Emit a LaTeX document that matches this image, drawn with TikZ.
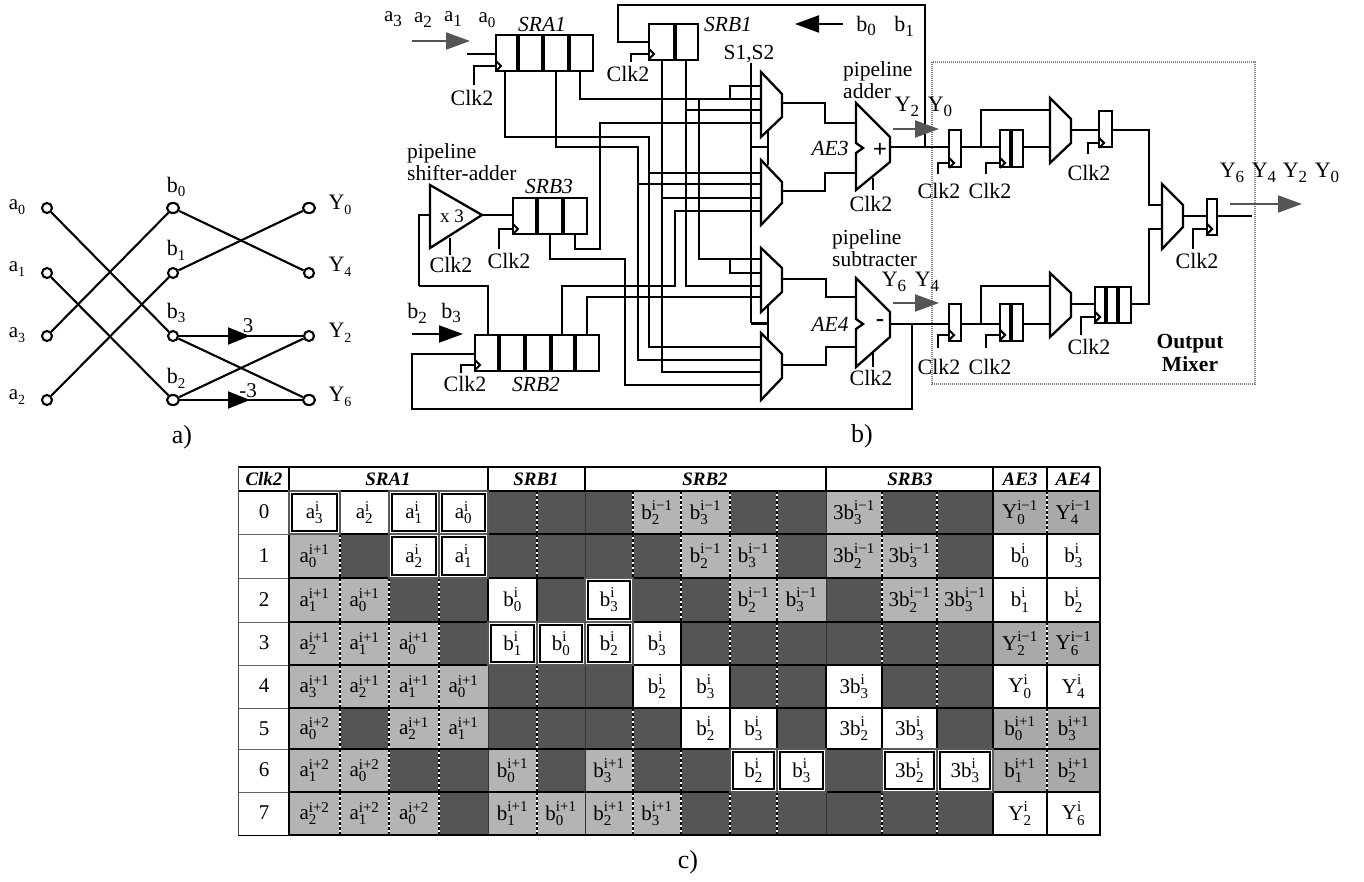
\documentclass[tikz,border=0pt]{standalone}
\usepackage{fontspec}
\setmainfont{Liberation Serif}
\usetikzlibrary{arrows.meta,shapes.geometric}
\definecolor{celW}{HTML}{FFFFFF}
\definecolor{celL}{HTML}{B4B4B4}
\definecolor{celM}{HTML}{A9A9A9}
\definecolor{celD}{HTML}{555555}
\definecolor{arrowgrey}{HTML}{555555}
\newcount\lblc
\newcommand\fs[1]{\fontsize{#1}{#1}\selectfont}
% label at x,y with style
\newcommand\lbl[4][]{\global\advance\lblc by 1 \node[lab,#1] (t\the\lblc) at (#2,#3) {#4};}
% text with lowered small index
\newcommand\lsub[3]{#1\raisebox{-.22em}{\fs{#3}#2}}
% cell value with sup and sub
\newcommand\cv[3]{$\hbox{#1}^{\hbox{\fs{15}#2}}_{\hbox{\fs{15}#3}}$}
\newcommand\regbox[6]{% name x0 y0 x1 y1 dividers
  \pgfmathsetmacro\rw{#4-#2}\pgfmathsetmacro\rh{#5-#3}
  \node[regshape,minimum width=\rw pt,minimum height=\rh pt] (#1) at ({(#2+#4)/2},{(#3+#5)/2}) {};
  \foreach \dx in {#6} {\draw[divider] (\dx,#3) -- (\dx,#5);}
}
\newcommand\clk[4]{% reg-x reg-y source-x source-y
  \draw[wire] (#3,#4) |- (#1,#2);
  \draw[wire] (#1,#2-5) -- (#1+5,#2) -- (#1,#2+5);
}
\newcommand\mux[6]{\filldraw[muxshape] (#1,#2) -- (#3,#4) -- (#3,#5) -- (#1,#6) -- cycle;}
\newcommand\dbl[4]{%
  \draw[dblout] (#1,#2) rectangle (#3,#4);
  \draw[dblin] (#1+3,#2+3) rectangle (#3-3,#4-3);
}
\def\kW{W}
\newcommand\trow[4]{% id y0 y1 list
  \gdef\prevk{X}
  \foreach \k/\t [count=\c] in {#4} {
    \pgfmathsetmacro\xa{{289,340,389,439,488,537,585,633,681,730,777,826,882,937,993,1047}[\c-1]}
    \pgfmathsetmacro\xb{{340,389,439,488,537,585,633,681,730,777,826,882,937,993,1047,1100}[\c-1]}
    \fill[cel\k] (\xa,#2) rectangle (\xb,#3);
    \node[cellab] (c#1-\c) at ({(\xa+\xb)/2},{(#2+#3)/2}) {\t};
    \edef\cur{\k}
    \ifnum\c>1
      \ifx\cur\kW \draw[rowline] (\xa,#2) -- (\xa,#3);
      \else\ifx\prevk\kW \draw[rowline] (\xa,#2) -- (\xa,#3);
      \else
        \ifnum\c=7 \draw[groupline] (\xa,#2) -- (\xa,#3);
        \else\ifnum\c=12 \draw[groupline] (\xa,#2) -- (\xa,#3);
        \else\ifnum\c=15 \draw[groupline] (\xa,#2) -- (\xa,#3);
        \else\ifnum\c=5 \draw[groupline] (\xa,#2) -- (\xa,#3);
        \else
          \draw[dashw] (\xa,#2) -- (\xa,#3);
          \draw[dashb] (\xa,#2) -- (\xa,#3);
        \fi\fi\fi\fi
      \fi\fi
    \fi
    \global\let\prevk\cur
  }
}
\tikzset{
  lab/.style={inner sep=0pt,font=\fs{21.5},align=left},
  wire/.style={line width=2.1pt,line join=miter},
  regshape/.style={draw,fill=white,line width=2.1pt,inner sep=0pt},
  divider/.style={line width=3.8pt},
  muxshape/.style={draw,fill=white,line width=2.3pt,line join=miter},
  greyarrow/.style={line width=2pt,draw=arrowgrey,-{Triangle[length=24pt,width=17pt,fill=arrowgrey]}},
  blackarrow/.style={line width=2pt,-{Triangle[length=24pt,width=17pt]}},
  midarrow/.style={line width=2.1pt,-{Triangle[length=22pt,width=17pt]}},
  term/.style={circle,draw,fill=white,line width=2.1pt,inner sep=0pt,minimum size=10pt},
  termw/.style={ellipse,draw,fill=white,line width=2.1pt,inner sep=0pt,minimum width=12pt,minimum height=10pt},
  cellab/.style={inner sep=0pt,font=\fs{21}},
  headlab/.style={inner sep=0pt,font=\fs{19}\bfseries\itshape},
  rowline/.style={line width=1.7pt},
  groupline/.style={line width=.9pt,draw=black!80},
  dashw/.style={line width=1.8pt,draw=white},
  dashb/.style={line width=1.8pt,draw=black,dash pattern=on 2.5pt off 2.5pt},
  dblout/.style={line width=1.2pt,draw=black!65},
  dblin/.style={line width=1.8pt,draw=black},
  mixer/.style={line width=2.8pt,draw=black!50,dash pattern=on 1.2pt off .8pt},
}
\begin{document}
\begin{tikzpicture}[x=1pt,y=-1pt]
\useasboundingbox (0,0) rectangle (1364,882);
\fill[white] (0,0) rectangle (1364,882);
% ---------- part a
\node[term] (a0) at (47,208) {};
\node[term] (a1) at (47,273) {};
\node[term] (a3) at (47,336) {};
\node[term] (a2) at (47,400) {};
\node[termw] (b0) at (173,208) {};
\node[term] (b1) at (173,273) {};
\node[term] (b3) at (173,336) {};
\node[termw] (b2) at (173,400) {};
\node[termw] (Y0) at (309,208) {};
\node[term] (Y4) at (309,273) {};
\node[term] (Y2) at (309,336) {};
\node[termw] (Y6) at (309,400) {};
\foreach \p/\q in {a0/b3,a1/b2,a3/b0,a2/b1,b0/Y4,b1/Y0,b3/Y2,b3/Y6,b2/Y2,b2/Y6}
  \draw[wire] (\p) -- (\q);
\coordinate (tip3) at (250,336);
\coordinate (tip6) at (250,400);
\draw[midarrow] (b3) -- (tip3);
\draw[midarrow] (b2) -- (tip6);
\lbl{17}{207}{\fs{21}\lsub{a}{0}{14}}
\lbl{17}{269}{\fs{21}\lsub{a}{1}{14}}
\lbl{17}{335}{\fs{21}\lsub{a}{3}{14}}
\lbl{17}{397}{\fs{21}\lsub{a}{2}{14}}
\lbl{176}{187}{\fs{22}\lsub{b}{0}{15}}
\lbl{176}{250}{\fs{22}\lsub{b}{1}{15}}
\lbl{176}{313}{\fs{22}\lsub{b}{3}{15}}
\lbl{176}{378}{\fs{22}\lsub{b}{2}{15}}
\lbl{340}{205}{\fs{22}\lsub{Y}{0}{14}}
\lbl{340}{267}{\fs{22}\lsub{Y}{4}{14}}
\lbl{340}{333}{\fs{22}\lsub{Y}{2}{14}}
\lbl{340}{397}{\fs{22}\lsub{Y}{6}{14}}
\lbl{248}{326}{\fs{21}3}
\lbl{248}{391}{\fs{21}-3}
\lbl{182}{437}{\fs{26}a)}
% ---------- mixer frame
\draw[mixer] (932,62) rectangle (1255,384);
% ---------- named ports
\foreach \n/\y in {m1a/86,m1b/99,m1c/110,m1d/123,m2a/173,m2b/184,m2c/198,m2d/211,m3a/259,m3b/273,m3c/286,m3d/297,m4a/347,m4b/360,m4c/372,m4d/385}
  \coordinate (\n) at (761,\y);
\coordinate (ra1) at (505,71);\coordinate (ra2) at (556,71);\coordinate (ra3) at (580,71);
\coordinate (b1a) at (662,60);\coordinate (b1b) at (686,60);
\coordinate (b3a) at (550,234);\coordinate (b3b) at (575,234);
\coordinate (b2a) at (488,335);\coordinate (b2b) at (562,335);\coordinate (b2c) at (587,335);
\coordinate (aeaout) at (890,147);\coordinate (aebout) at (890,324);
% ---------- central wires
\draw[wire] (ra3) |- (m1b);
\draw[wire] (730,99) |- (m1a);
\draw[wire] (699,99) |- (m3a);
\draw[wire] (730,259) |- (m3b);
\draw[wire] (ra1) |- (649,137) |- (m4a);
\draw[wire] (649,173) -- (m2a);
\draw[wire] (ra2) |- (638,147) |- (m4b);
\draw[wire] (638,184) -- (m2b);
\draw[wire] (b1a) |- (m4c);
\draw[wire] (662,198) -- (m2c);
\draw[wire] (b1b) |- (m3c);
\draw[wire] (686,110) -- (m1c);
\draw[wire] (b3a) |- (625,259) |- (m4d);
\draw[wire] (b3b) |- (600,249) |- (m1d);
\draw[wire] (b2b) |- (675,286) |- (m2d);
\draw[wire] (b2c) |- (m3d);
\draw[wire] (b2a) |- (419,286);
\draw[wire] (419,286) -- (419,215) -- (430,215);
\draw[wire] (475,354) -- (412,354) |- (912,409) -- (912,324);
\draw[wire] (649,42) -- (618,42) |- (925,5) -- (925,147);
\draw[wire] (467,54) -- (496,54);
\draw[wire] (482,215) -- (513,215);
\draw[wire] (751,63) -- (751,323);
\draw[line width=3pt] (751,323) -- (768,323);
\draw[wire] (751,147) -- (768,147);
\draw[wire] (768,130) -- (768,165);
\draw[wire] (768,305) -- (768,340);
% mux to adder wires
\draw[wire] (782,103) -- (825,103) -- (825,123) -- (856,123);
\draw[wire] (782,191) -- (825,191) -- (825,173) -- (856,173);
\draw[wire] (782,279) -- (826,279) -- (826,297) -- (856,297);
\draw[wire] (782,365) -- (826,365) -- (826,347) -- (856,347);
\draw[wire] (aeaout) -- (949,147);
\draw[wire] (aebout) -- (949,324);
\draw[wire] (873,178) -- (873,190);
\draw[wire] (873,350) -- (873,367);
\draw[wire] (450,238) -- (450,255);
% ---------- registers left
\regbox{sra1}{496}{35}{593}{71}{518,543,569}
\regbox{srb1}{649}{24}{698}{60}{675}
\regbox{srb3}{513}{198}{587}{234}{537,563}
\regbox{srb2}{475}{335}{599}{371}{499,525,551,575}
\clk{496}{66}{474}{85}
\clk{649}{54}{631}{62}
\clk{513}{229}{499}{249}
\clk{475}{365}{461}{373}
% ---------- multiplexers and adders
\mux{761}{72}{782}{94}{117}{137}
\mux{761}{160}{782}{182}{203}{225}
\mux{761}{248}{782}{268}{292}{312}
\mux{761}{333}{782}{354}{378}{400}
\filldraw[muxshape] (856,103) -- (890,137) -- (890,162) -- (856,190) -- (856,153) -- (863,148) -- (856,143) -- cycle;
\filldraw[muxshape] (856,278) -- (890,312) -- (890,337) -- (856,367) -- (856,329) -- (863,324) -- (856,319) -- cycle;
\filldraw[muxshape] (430,185) -- (482,215) -- (430,248) -- cycle;
% ---------- mixer wires
\draw[wire] (961,147) -- (1000,147);
\draw[wire] (981,147) |- (1050,110);
\draw[wire] (1023,147) -- (1050,147);
\draw[wire] (1071,130) -- (1099,130);
\draw[wire] (1112,130) -- (1149,130) |- (1162,205);
\draw[wire] (961,324) -- (1000,324);
\draw[wire] (981,324) |- (1050,286);
\draw[wire] (1023,324) -- (1050,324);
\draw[wire] (1071,304) -- (1095,304);
\draw[wire] (1131,304) -- (1149,304) |- (1162,229);
\draw[wire] (1183,216) -- (1207,216);
\draw[wire] (1217,216) -- (1252,216);
% ---------- mixer registers
\regbox{ra}{949}{130}{961}{167}{}
\regbox{rb}{1000}{130}{1023}{167}{1011}
\regbox{rc}{1099}{111}{1112}{147}{}
\regbox{rd}{949}{304}{961}{341}{}
\regbox{re}{1000}{304}{1023}{341}{1011}
\regbox{rf}{1095}{287}{1131}{323}{1106,1118}
\regbox{rg}{1207}{199}{1217}{235}{}
\clk{949}{163}{938}{174}
\clk{1000}{163}{986}{174}
\clk{1099}{143}{1088}{154}
\clk{949}{335}{938}{348}
\clk{1000}{335}{986}{348}
\clk{1095}{317}{1081}{335}
\clk{1207}{229}{1193}{249}
\mux{1050}{98}{1071}{119}{143}{163}
\mux{1050}{273}{1071}{293}{317}{337}
\mux{1162}{184}{1183}{205}{227}{249}
% ---------- arrows
\coordinate (g1a) at (412,41);\coordinate (g1b) at (470,41);
\draw[greyarrow] (g1a) -- (g1b);
\coordinate (k1a) at (843,24);\coordinate (k1b) at (795,24);
\draw[blackarrow] (k1a) -- (k1b);
\coordinate (k2a) at (412,334);\coordinate (k2b) at (463,334);
\draw[blackarrow] (k2a) -- (k2b);
\coordinate (g2a) at (893,129);\coordinate (g2b) at (939,129);
\draw[greyarrow] (g2a) -- (g2b);
\coordinate (g3a) at (893,303);\coordinate (g3b) at (939,303);
\draw[greyarrow] (g3a) -- (g3b);
\coordinate (g4a) at (1230,204);\coordinate (g4b) at (1302,204);
\draw[greyarrow] (g4a) -- (g4b);
% ---------- labels b
\lbl{393}{19}{\fs{21}\lsub{a}{3}{17}}
\lbl{423}{20}{\fs{21}\lsub{a}{2}{17}}
\lbl{453}{19}{\fs{21}\lsub{a}{1}{17}}
\lbl{487}{20}{\fs{21}\lsub{a}{0}{15}}
\lbl{866}{26}{\fs{22}\lsub{b}{0}{17}}
\lbl{904}{26}{\fs{22}\lsub{b}{1}{17}}
\lbl{417}{313}{\fs{22}\lsub{b}{2}{17}}
\lbl{451}{313}{\fs{22}\lsub{b}{3}{17}}
\lbl{542}{24}{\itshape SRA1}
\lbl{728}{24}{\itshape SRB1}
\lbl{549}{186}{\itshape SRB3}
\lbl{536}{384}{\itshape SRB2}
\lbl{749}{54}{S1,S2}
\lbl[anchor=west]{407}{162}{pipeline\\[1pt]shifter-adder}
\lbl[anchor=west]{843}{80}{pipeline\\[1pt]adder}
\lbl[anchor=west]{832}{248}{pipeline\\[1pt]subtracter}
\lbl{452}{216}{\fs{19}x 3}
\lbl{830}{148}{\itshape AE3}
\lbl{830}{324}{\itshape AE4}
\lbl{880}{150}{\fs{25}\bfseries +}
\lbl{880}{323}{\fs{25}\bfseries -}
\lbl{907}{107}{\fs{22}\lsub{Y}{2}{17}}
\lbl{940}{107}{\fs{22}\lsub{Y}{0}{17}}
\lbl{894}{282}{\fs{22}\lsub{Y}{6}{17}}
\lbl{927}{282}{\fs{22}\lsub{Y}{4}{17}}
\lbl{1232}{173}{\fs{22}\lsub{Y}{6}{17}}
\lbl{1264}{173}{\fs{22}\lsub{Y}{4}{17}}
\lbl{1295}{173}{\fs{22}\lsub{Y}{2}{17}}
\lbl{1327}{173}{\fs{22}\lsub{Y}{0}{17}}
\foreach \x/\y in {472/98,628/74,451/265,509/261,465/384,871/204,871/378,939/191,990/191,1089/173,939/367,990/367,1089/347,1197/261}
  {\lbl{\x}{\y}{\fs{22}Clk2}}
\lbl[align=center,font=\fs{21.5}\bfseries]{1190}{353}{Output\\[1pt]Mixer}
\lbl{862}{436}{\fs{26}b)}
% ---------- table
\fill[white] (238,467) rectangle (1100,835);
\trow{0}{491}{534}{W/\cv{a}{i}{3},W/\cv{a}{i}{2},W/\cv{a}{i}{1},W/\cv{a}{i}{0},D/{},D/{},D/{},L/\cv{b}{i−1}{2},L/\cv{b}{i−1}{3},D/{},D/{},L/\cv{3b}{i−1}{3},D/{},D/{},M/\cv{Y}{i−1}{0},M/\cv{Y}{i−1}{4}}
\trow{1}{534}{578}{L/\cv{a}{i+1}{0},D/{},W/\cv{a}{i}{2},W/\cv{a}{i}{1},D/{},D/{},D/{},D/{},L/\cv{b}{i−1}{2},L/\cv{b}{i−1}{3},D/{},L/\cv{3b}{i−1}{2},L/\cv{3b}{i−1}{3},D/{},W/\cv{b}{i}{0},W/\cv{b}{i}{3}}
\trow{2}{578}{622}{L/\cv{a}{i+1}{1},L/\cv{a}{i+1}{0},D/{},D/{},W/\cv{b}{i}{0},D/{},W/\cv{b}{i}{3},D/{},D/{},L/\cv{b}{i−1}{2},L/\cv{b}{i−1}{3},D/{},L/\cv{3b}{i−1}{2},L/\cv{3b}{i−1}{3},W/\cv{b}{i}{1},W/\cv{b}{i}{2}}
\trow{3}{622}{665}{L/\cv{a}{i+1}{2},L/\cv{a}{i+1}{1},L/\cv{a}{i+1}{0},D/{},W/\cv{b}{i}{1},W/\cv{b}{i}{0},W/\cv{b}{i}{2},W/\cv{b}{i}{3},D/{},D/{},D/{},D/{},D/{},D/{},M/\cv{Y}{i−1}{2},M/\cv{Y}{i−1}{6}}
\trow{4}{665}{708}{L/\cv{a}{i+1}{3},L/\cv{a}{i+1}{2},L/\cv{a}{i+1}{1},L/\cv{a}{i+1}{0},D/{},D/{},D/{},W/\cv{b}{i}{2},W/\cv{b}{i}{3},D/{},D/{},W/\cv{3b}{i}{3},D/{},D/{},W/\cv{Y}{i}{0},W/\cv{Y}{i}{4}}
\trow{5}{708}{749}{L/\cv{a}{i+2}{0},D/{},L/\cv{a}{i+1}{2},L/\cv{a}{i+1}{1},D/{},D/{},D/{},D/{},W/\cv{b}{i}{2},W/\cv{b}{i}{3},D/{},W/\cv{3b}{i}{2},W/\cv{3b}{i}{3},D/{},M/\cv{b}{i+1}{0},M/\cv{b}{i+1}{3}}
\trow{6}{749}{792}{L/\cv{a}{i+2}{1},L/\cv{a}{i+2}{0},D/{},D/{},L/\cv{b}{i+1}{0},D/{},L/\cv{b}{i+1}{3},D/{},D/{},W/\cv{b}{i}{2},W/\cv{b}{i}{3},D/{},W/\cv{3b}{i}{2},W/\cv{3b}{i}{3},M/\cv{b}{i+1}{1},M/\cv{b}{i+1}{2}}
\trow{7}{792}{835}{L/\cv{a}{i+2}{2},L/\cv{a}{i+2}{1},L/\cv{a}{i+2}{0},D/{},L/\cv{b}{i+1}{1},L/\cv{b}{i+1}{0},L/\cv{b}{i+1}{2},L/\cv{b}{i+1}{3},D/{},D/{},D/{},D/{},D/{},D/{},W/\cv{Y}{i}{2},W/\cv{Y}{i}{6}}
% rows and frame
\foreach \y in {534,578,622,665,708,749,792}
  {\draw[rowline,line width=1.3pt] (289,\y) -- (1100,\y);
   \draw[line width=.7pt,draw=black!60] (238,\y) -- (289,\y);}
\draw[rowline] (238,467) -- (1100,467);
\draw[rowline] (238,491) -- (1100,491);
\draw[rowline] (289,835) -- (1100,835);
\draw[rowline,line width=1pt] (238,835) -- (289,835);
\draw[line width=.8pt,draw=black!70] (238,467) -- (238,835);
\draw[rowline] (289,467) -- (289,835);
\draw[rowline] (1100,467) -- (1100,835);
\draw[rowline] (993,467) -- (993,835);
\foreach \x in {488,585,826,1047}
  \draw[rowline,line width=1.1pt] (\x,467) -- (\x,491);
% AE white cells frames
\draw[rowline,line width=2.2pt] (993,534) rectangle (1100,622);
\draw[rowline,line width=2.2pt] (993,665) rectangle (1100,708);
\draw[rowline,line width=2.2pt] (993,792) rectangle (1100,835);
% double frames
\dbl{289}{491}{340}{534}
\dbl{389}{491}{439}{534}
\dbl{439}{491}{488}{534}
\dbl{389}{534}{439}{578}
\dbl{439}{534}{488}{578}
\dbl{585}{578}{633}{622}
\dbl{488}{622}{537}{665}
\dbl{537}{622}{585}{665}
\dbl{585}{622}{633}{665}
\dbl{730}{749}{777}{792}
\dbl{777}{749}{826}{792}
\dbl{882}{749}{937}{792}
\dbl{937}{749}{993}{792}
% headers
\foreach \x/\t in {264/Clk2,388/SRA1,536/SRB1,705/SRB2,910/SRB3,1020/AE3,1073/AE4}
  {\global\advance\lblc by 1 \node[headlab] (h\the\lblc) at (\x,479) {\t};}
% row numbers
\foreach \y/\t in {512/0,556/1,600/2,643/3,686/4,729/5,770/6,813/7}
  {\global\advance\lblc by 1 \node[cellab] (n\the\lblc) at (264,\y) {\t};}
\lbl{688}{862}{\fs{26}c)}
\end{tikzpicture}
\end{document}
